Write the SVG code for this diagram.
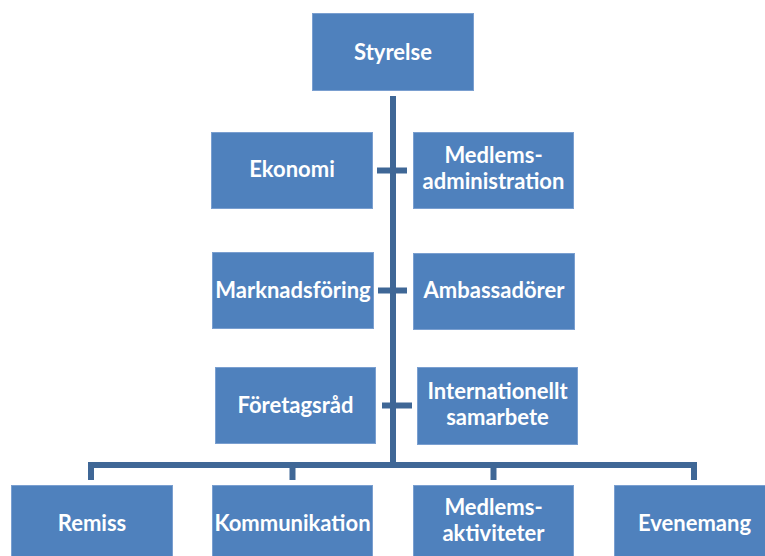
<svg xmlns="http://www.w3.org/2000/svg" width="765" height="556" viewBox="0 0 765 556">
<style>
.box{fill:#4F81BD;stroke:#7A9FD0;stroke-width:1}
.lbl{font-family:Lato,"Open Sans","Liberation Sans",sans-serif;font-weight:bold;font-size:22px;fill:#FFFFFF;text-anchor:middle}
.con{stroke:#3F6796;stroke-width:6;fill:none}
</style>
<rect width="765" height="556" fill="#FFFFFF"/>
<g id="connectors">
<line class="con" x1="393" y1="96" x2="393" y2="468"/>
<line class="con" x1="377" y1="170.5" x2="407" y2="170.5"/>
<line class="con" x1="378" y1="290.5" x2="407" y2="290.5"/>
<line class="con" x1="382" y1="405.5" x2="412" y2="405.5"/>
<path class="con" d="M91,480 V465 H694 V480"/>
<line class="con" x1="292.5" y1="465" x2="292.5" y2="480"/>
<line class="con" x1="493.5" y1="465" x2="493.5" y2="480"/>
</g>
<g id="styrelse"><rect class="box" x="312.5" y="13.5" width="161" height="77"/><text class="lbl" x="393" y="60">Styrelse</text></g>
<g id="ekonomi"><rect class="box" x="211.5" y="132.5" width="161" height="76"/><text class="lbl" x="292" y="177">Ekonomi</text></g>
<g id="medlemsadministration"><rect class="box" x="413.5" y="132.5" width="160" height="76"/><text class="lbl" x="493.5" y="163">Medlems-</text><text class="lbl" x="493.5" y="189">administration</text></g>
<g id="marknadsforing"><rect class="box" x="212.5" y="252.5" width="161" height="76"/><text class="lbl" x="293" y="298">Marknadsföring</text></g>
<g id="ambassadorer"><rect class="box" x="413.5" y="253.5" width="161" height="76"/><text class="lbl" x="494" y="298">Ambassadörer</text></g>
<g id="foretagsrad"><rect class="box" x="215.5" y="367.5" width="160" height="76"/><text class="lbl" x="295.5" y="413">Företagsråd</text></g>
<g id="internationellt"><rect class="box" x="417.5" y="367.5" width="160" height="77"/><text class="lbl" x="497.5" y="399">Internationellt</text><text class="lbl" x="497.5" y="425">samarbete</text></g>
<g id="remiss"><rect class="box" x="11.5" y="485.5" width="161" height="80"/><text class="lbl" x="92" y="531">Remiss</text></g>
<g id="kommunikation"><rect class="box" x="212.5" y="485.5" width="160" height="80"/><text class="lbl" x="292.5" y="531">Kommunikation</text></g>
<g id="medlemsaktiviteter"><rect class="box" x="413.5" y="485.5" width="160" height="80"/><text class="lbl" x="493.5" y="515">Medlems-</text><text class="lbl" x="493.5" y="541">aktiviteter</text></g>
<g id="evenemang"><rect class="box" x="614.5" y="485.5" width="161" height="80"/><text class="lbl" x="694.5" y="531">Evenemang</text></g>
</svg>
